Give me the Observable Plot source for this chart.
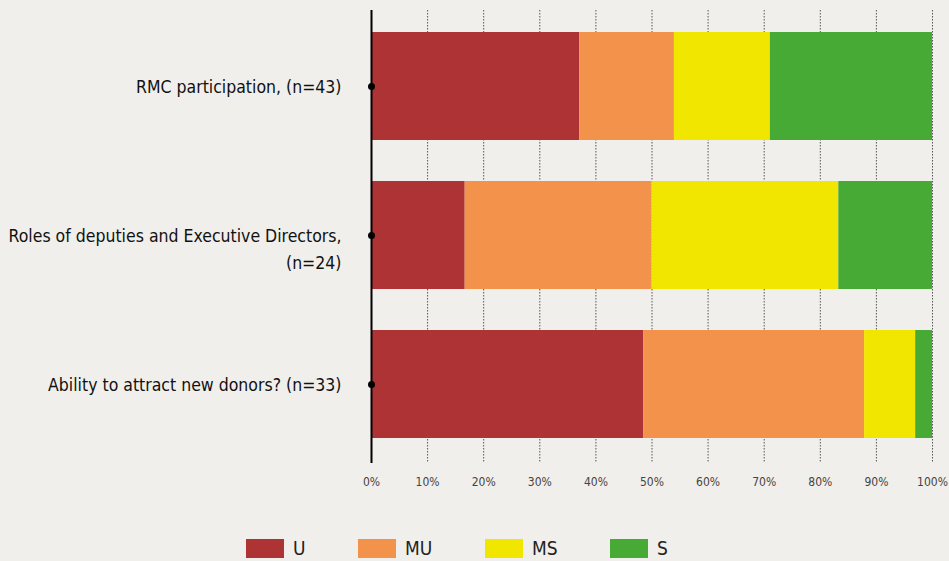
<!DOCTYPE html>
<html>
<head>
<meta charset="utf-8">
<script src="https://cdn.jsdelivr.net/npm/d3@7"></script>
<script src="https://cdn.jsdelivr.net/npm/@observablehq/plot@0.6"></script>
<style>
  html, body { margin: 0; padding: 0; background: #f0efeb; }
  body { width: 949px; height: 561px; position: relative; overflow: hidden;
         font-family: "DejaVu Sans", sans-serif; font-stretch: condensed; }
  #chart { position: absolute; left: 0; top: 0; }
  #chart svg, #chart svg text { font-family: "DejaVu Sans", sans-serif; font-stretch: condensed; }
  #legend { position: absolute; left: 246px; top: 539px; display: flex; align-items: center; }
  .item { display: flex; align-items: center; }
  .item:nth-child(1) { width: 112px; }
  .item:nth-child(2) { width: 127px; }
  .item:nth-child(3) { width: 125px; }
  .sw { width: 38px; height: 19px; margin-right: 9px; }
  .lab { font-size: 19px; color: #222; line-height: 19px; }
</style>
</head>
<body>
<div id="chart"></div>
<div id="legend"></div>
<script>
const categories = [
  "RMC participation, (n=43)",
  "Roles of deputies and Executive Directors,\n(n=24)",
  "Ability to attract new donors? (n=33)"
];
const levels = ["U", "MU", "MS", "S"];
const valuesU  = [37.1, 16.7, 48.5];
const valuesMU = [16.9, 33.3, 39.4];
const valuesMS = [17.1, 33.3, 9.1];
const valuesS  = [28.9, 16.7, 3.0];
const colors = ["#ae3334", "#f3924a", "#f1e600", "#47aa35"];
const tickValues = [0, 10, 20, 30, 40, 50, 60, 70, 80, 90, 100];

const series = [valuesU, valuesMU, valuesMS, valuesS];
const data = [];
categories.forEach((c, i) => {
  levels.forEach((l, j) => data.push({category: c, level: l, value: series[j][i]}));
});

const chart = Plot.plot({
  width: 949,
  height: 500,
  marginLeft: 371,
  marginRight: 17,
  marginTop: 10,
  marginBottom: 37,
  style: {background: "transparent"},
  x: {domain: [0, 100], axis: null, label: null},
  y: {domain: categories, range: [10, 459], paddingInner: 0.278, paddingOuter: 0.14, axis: null, label: null},
  color: {domain: levels, range: colors},
  marks: [
    Plot.ruleX(tickValues.filter(t => t > 0), {stroke: "#555", strokeWidth: 1, strokeDasharray: "1.5,1.5"}),
    Plot.barX(data, Plot.stackX({x: "value", y: "category", fill: "level", order: levels})),
    Plot.ruleX([0], {stroke: "#000", strokeWidth: 2}),
    Plot.dot(categories, {x: () => 0, y: d => d, r: 3.5, fill: "#000", stroke: null}),
    Plot.text(categories, {x: () => 0, y: d => d, text: d => d, textAnchor: "end", dx: -30,
      lineAnchor: "top", dy: -13, fontSize: 17.5, lineHeight: 1.57, fill: "#111"}),
    Plot.axisX(tickValues, {tickSize: 0, tickPadding: 14, tickFormat: d => d + "%", fontSize: 12, fill: "#444", label: null})
  ]
});
document.getElementById("chart").appendChild(chart);

const legend = document.getElementById("legend");
levels.forEach((l, i) => {
  const item = document.createElement("div");
  item.className = "item";
  const sw = document.createElement("div");
  sw.className = "sw";
  sw.style.background = colors[i];
  const lab = document.createElement("span");
  lab.className = "lab";
  lab.textContent = l;
  item.appendChild(sw);
  item.appendChild(lab);
  legend.appendChild(item);
});
</script>
</body>
</html>
